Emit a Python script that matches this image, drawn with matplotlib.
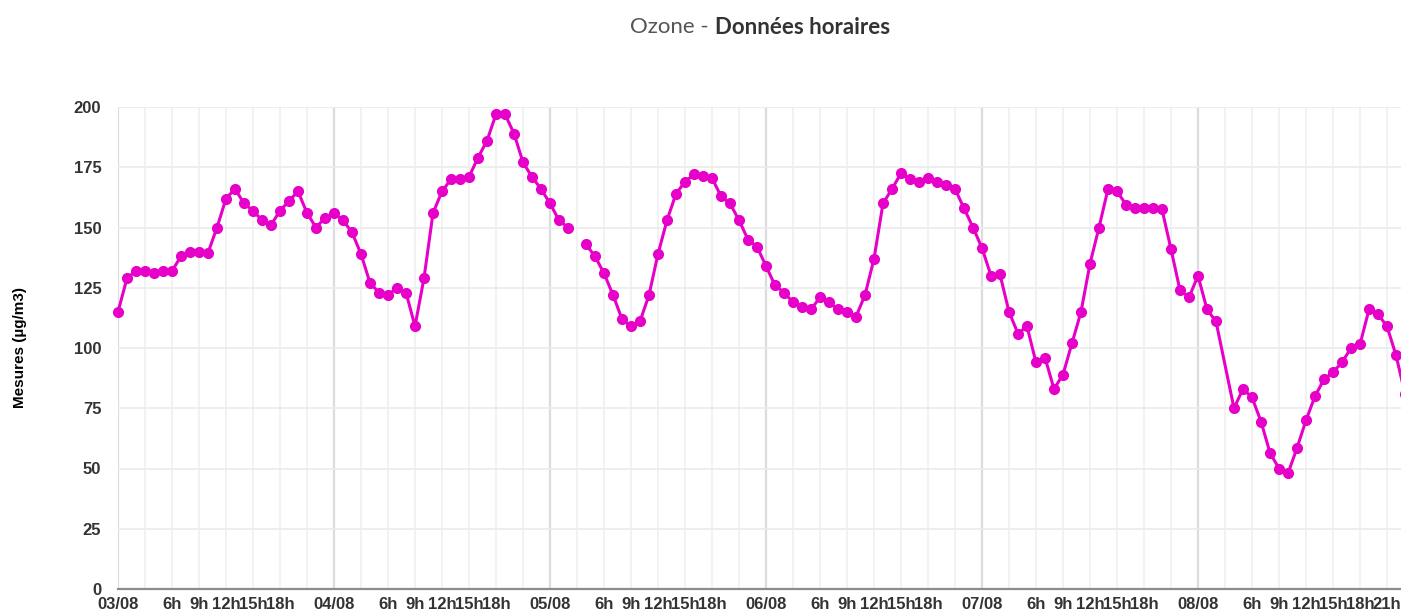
import numpy as np
import matplotlib
matplotlib.use('Agg')
import matplotlib.pyplot as plt

# hourly ozone readings, 03/08 00h -> 08/08 23h (nan = null, line breaks)
ozone = [115, 129, 132, 132, 131, 132, 132, 138, 140, 140, 139.5, 150,
         162, 166, 160, 157, 153, 151, 157, 161, 165, 156, 150, 154,
         156, 153, 148, 139, 127, 123, 122, 125, 123, 109, 129, 156,
         165, 170, 170, 171, 179, 186, 197, 197, 189, 177, 171, 166,
         160, 153, 150, np.nan, 143, 138, 131, 122, 112, 109, 111, 122,
         139, 153, 164, 169, 172, 171.5, 170.5, 163, 160, 153, 145, 142,
         134, 126, 123, 119, 117, 116, 121, 119, 116, 115, 113, 122,
         137, 160, 166, 172.5, 170, 169, 170.5, 169, 167.5, 166, 158, 150,
         141.5, 130, 130.5, 115, 106, 109, 94, 96, 83, 89, 102, 115,
         135, 150, 166, 165, 159.5, 158, 158, 158, 157.5, 141, 124, 121,
         130, 116, 111, None, 75, 83, 79.5, 69.5, 56.5, 50, 48, 58.5,
         70, 80, 87, 90, 94, 100, 101.5, 116, 114, 109, 97, 81]
days = ['03/08', '04/08', '05/08', '06/08', '07/08', '08/08']
hour_labels = ['6h', '9h', '12h', '15h', '18h']
last_day_extra = ['21h']

# the None hour has no reading at all: the line just connects over it
hours = [h for h, v in enumerate(ozone) if v is not None]
vals = [v for v in ozone if v is not None]

tick_font = ['Liberation Sans Narrow', 'Liberation Sans']
txt_col = '#333333'

fig = plt.figure(figsize=(14.01, 6.14), dpi=100)
ax = fig.add_axes([118/1401, 25/614, 1283/1401, 482/614])

ax.plot(hours, vals, color='#e600c8', lw=2.2, marker='o', ms=7,
        clip_on=False, zorder=3)

ax.set_ylim(0, 200)
ax.set_xlim(0, 1283/9)

# grid: light every 3h, darker at midnight
for h in range(0, 144, 3):
    if h % 24 == 0:
        ax.axvline(h, color='#dcdcdc', lw=1.6, zorder=1)
    else:
        ax.axvline(h, color='#f0f0f0', lw=1.2, zorder=1)
for y in range(25, 201, 25):
    ax.axhline(y, color='#ebebeb', lw=1.2, zorder=1)

# x ticks
xt, xl = [], []
for i, d in enumerate(days):
    xt.append(24*i)
    xl.append(d)
    labs = hour_labels + (last_day_extra if i == len(days) - 1 else [])
    for lab in labs:
        xt.append(24*i + int(lab[:-1]))
        xl.append(lab)
ax.set_xticks(xt)
ax.set_xticklabels(xl)
ax.set_yticks(range(0, 201, 25))

for lab in ax.get_xticklabels() + ax.get_yticklabels():
    lab.set_family(tick_font)
    lab.set_fontweight('bold')
    lab.set_fontsize(12)
    lab.set_color(txt_col)
ax.tick_params(axis='x', length=0, pad=6)
ax.tick_params(axis='y', length=0, pad=12)

for s in ['top', 'right', 'left']:
    ax.spines[s].set_visible(False)
ax.spines['bottom'].set_color('#8c8c8c')
ax.spines['bottom'].set_linewidth(1.6)
ax.spines['bottom'].set_zorder(2)

fig.text(20/1401, 1 - 347/614, 'Mesures (µg/m3)', rotation=90, ha='center',
         va='center', fontsize=11, fontweight='bold', color='black',
         family=['Liberation Sans'])

# title in two parts: light "Ozone - " then bold "Donn\u00e9es horaires"
t1 = fig.text(0, 1 - 27/614, 'Ozone - ', fontsize=16, color='#555555',
              family=['Lato'], va='center', ha='left')
t2 = fig.text(0, 1 - 27/614, 'Données horaires', fontsize=16,
              fontweight='bold', color='#333333', family=['Lato'],
              va='center', ha='left')
fig.canvas.draw()
r = fig.canvas.get_renderer()
w1 = t1.get_window_extent(r).width
w2 = t2.get_window_extent(r).width
x0 = 760 - (w1 + w2) / 2
t1.set_x(x0 / 1401)
t2.set_x((x0 + w1) / 1401)

fig.savefig('out.png', dpi=100)
